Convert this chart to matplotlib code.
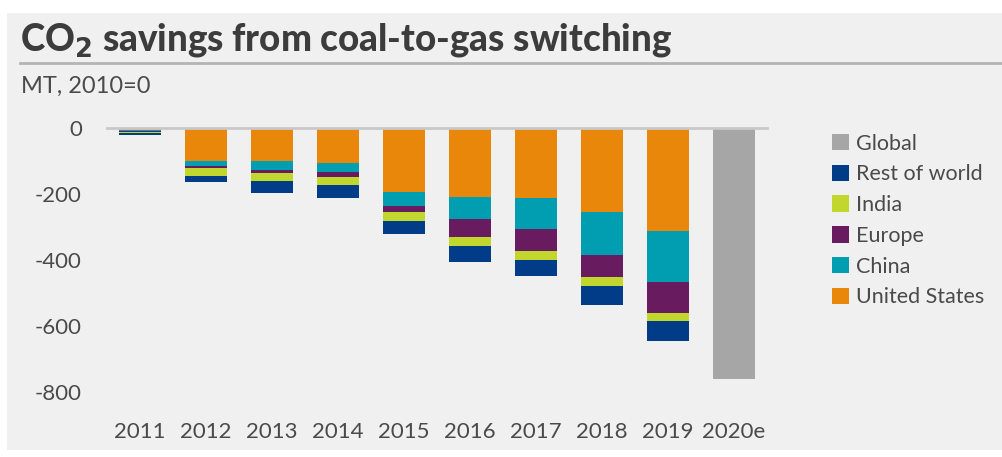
import matplotlib.pyplot as plt
from matplotlib.patches import Patch, Rectangle
from matplotlib.lines import Line2D
import numpy as np

years = ['2011', '2012', '2013', '2014', '2015', '2016', '2017', '2018', '2019', '2020e']
# regional savings (MT), 2011-2019, stacked downward from zero
united_states = [-8, -103, -103, -107, -194, -212, -213, -257, -315]
china = [-4, -15, -25, -29, -43, -65, -95, -130, -152]
europe = [-2, -5, -10, -13, -20, -55, -65, -65, -94]
india = [-2, -23, -24, -25, -25, -27, -28, -29, -25]
rest_of_world = [-6, -19, -36, -40, -42, -49, -49, -57, -62]
global_2020e = [-761]

series = [
    ('United States', united_states, '#E8870A'),
    ('China', china, '#009EB0'),
    ('Europe', europe, '#691B5F'),
    ('India', india, '#C1D72E'),
    ('Rest of world', rest_of_world, '#003C88'),
]
global_color = '#A6A6A6'
bg = '#F0F0F0'
text_col = '#4A4A4A'

plt.rcParams['font.family'] = ['Lato', 'DejaVu Sans']
plt.rcParams['axes.unicode_minus'] = False

fig = plt.figure(figsize=(10.03, 4.57), dpi=100, facecolor='white')
# light grey panel
fig.patches.append(Rectangle((7 / 1003, 1 - 450 / 457), 995 / 1003, 437 / 457,
                             transform=fig.transFigure, facecolor=bg,
                             edgecolor='none', zorder=-10))
# rule under the title
fig.add_artist(Line2D([20 / 1003, 1002 / 1003], [1 - 63 / 457, 1 - 63 / 457],
                      transform=fig.transFigure, color='#B4B4B4', lw=2, zorder=-5))

fig.text(20 / 1003, 1 - 40 / 457, r'CO$_\mathbf{2}$ savings from coal-to-gas switching',
         fontsize=26.5, fontweight='black', color='#3C3C3C', va='center', ha='left')
fig.text(21 / 1003, 1 - 86 / 457, 'MT, 2010=0', fontsize=17, color=text_col,
         va='center', ha='left')

ax = fig.add_axes([107 / 1003, 1 - 408 / 457, 660 / 1003, 280.5 / 457])
ax.set_facecolor('none')

x = np.arange(len(years))
n = len(united_states)
width = 0.64
bottom = np.zeros(n)
for name, vals, col in series:
    ax.bar(x[:n], vals, width, bottom=bottom, color=col, label=name, zorder=2)
    bottom += np.array(vals)
ax.bar(x[n:], global_2020e, width, color=global_color, zorder=2)

ax.axhline(0, color='#C8C8C8', lw=2, zorder=3, clip_on=False)

ax.set_xlim(-0.5, len(years) - 0.5)
ax.set_ylim(-850, 0)
ax.set_yticks([0, -200, -400, -600, -800])
ax.set_xticks(x)
ax.set_xticklabels(years)
for s in ax.spines.values():
    s.set_visible(False)
ax.tick_params(length=0, labelsize=16, labelcolor=text_col)
ax.tick_params(axis='x', pad=10)
ax.tick_params(axis='y', pad=18)

leg_items = [('Global', global_color)] + [(nm, c) for nm, _, c in series[::-1]]
leg_handles = [Patch(facecolor=c, edgecolor='none', label=nm) for nm, c in leg_items]
fig.legend(handles=leg_handles, loc='upper left',
           bbox_to_anchor=(823 / 1003, 1 - 125 / 457), frameon=False,
           fontsize=15.5, handlelength=0.8, handleheight=0.8, handletextpad=0.35,
           labelspacing=0.5, labelcolor=text_col, borderaxespad=0)

fig.savefig('out.png', dpi=100, facecolor='white')
